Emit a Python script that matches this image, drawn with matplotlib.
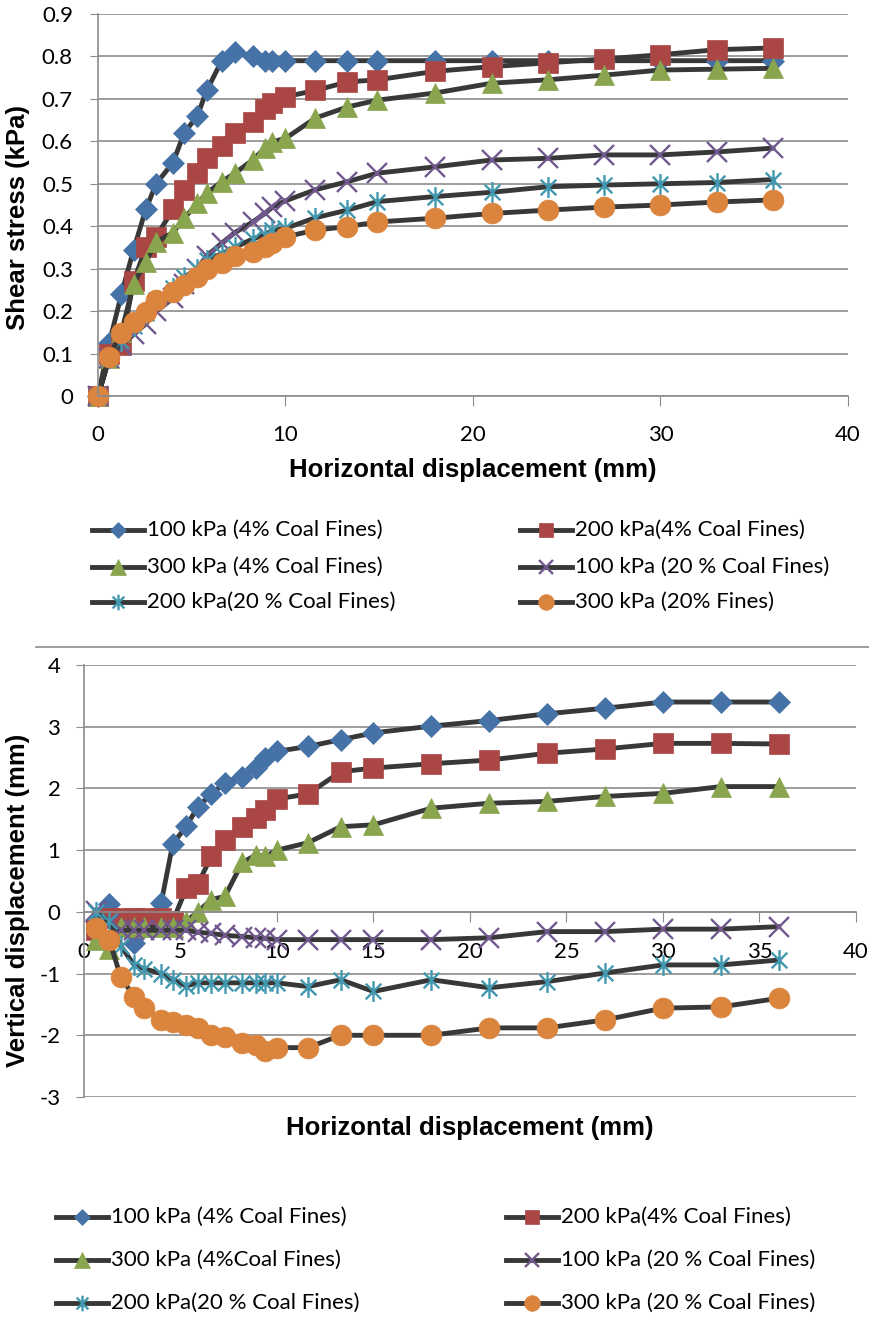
import matplotlib
matplotlib.use("Agg")
import matplotlib.pyplot as plt
from matplotlib.lines import Line2D
from matplotlib.path import Path

plt.rcParams["axes.unicode_minus"] = False

# Shear box test results: shear stress and vertical displacement vs horizontal displacement
x_shear = [0, 0.6, 1.25, 1.9, 2.55, 3.1, 4.0, 4.6, 5.3, 5.8, 6.6, 7.3, 8.25, 8.9, 9.3, 10.0,
           11.6, 13.3, 14.9, 18, 21, 24, 27, 30, 33, 36]
tau_100_4 = [0, 0.125, 0.24, 0.345, 0.44, 0.50, 0.55, 0.62, 0.66, 0.72, 0.79, 0.81, 0.80, 0.79,
             0.79, 0.79, 0.79, 0.79, 0.79, 0.79, 0.79, 0.79, 0.79, 0.79, 0.79, 0.79]
tau_200_4 = [0, 0.10, 0.12, 0.27, 0.35, 0.375, 0.44, 0.485, 0.525, 0.56, 0.59, 0.62, 0.645, 0.675,
             0.69, 0.705, 0.72, 0.74, 0.745, 0.765, 0.776, 0.785, 0.794, 0.804, 0.816, 0.82]
tau_300_4 = [0, 0.09, 0.15, 0.265, 0.316, 0.363, 0.385, 0.419, 0.454, 0.478, 0.505, 0.525, 0.556,
             0.584, 0.599, 0.607, 0.655, 0.681, 0.697, 0.714, 0.737, 0.745, 0.756, 0.768, 0.77, 0.772]
tau_100_20 = [0, 0.09, 0.12, 0.145, 0.17, 0.20, 0.23, 0.265, 0.30, 0.33, 0.36, 0.385, 0.41, 0.43,
              0.445, 0.46, 0.486, 0.505, 0.525, 0.54, 0.556, 0.56, 0.568, 0.568, 0.575, 0.584]
tau_200_20 = [0, 0.09, 0.13, 0.165, 0.195, 0.225, 0.255, 0.28, 0.30, 0.32, 0.335, 0.35, 0.37, 0.38,
              0.39, 0.395, 0.42, 0.438, 0.458, 0.47, 0.48, 0.493, 0.497, 0.50, 0.503, 0.51]
tau_300_20 = [0, 0.093, 0.148, 0.175, 0.198, 0.226, 0.246, 0.262, 0.281, 0.30, 0.313, 0.329, 0.34,
              0.352, 0.36, 0.375, 0.391, 0.399, 0.41, 0.419, 0.43, 0.438, 0.445, 0.45, 0.457, 0.462]

x_vert = [0.6, 1.3, 1.9, 2.6, 3.1, 4.0, 4.6, 5.3, 5.9, 6.6, 7.3, 8.2, 8.9, 9.4, 10.0, 11.6,
          13.3, 15, 18, 21, 24, 27, 30, 33, 36]
dv_100_4 = [-0.15, 0.13, -0.2, -0.5, -0.25, 0.15, 1.1, 1.39, 1.70, 1.91, 2.09, 2.19, 2.33, 2.50,
            2.60, 2.68, 2.79, 2.90, 3.01, 3.10, 3.21, 3.30, 3.40, 3.40, 3.40]
dv_200_4 = [-0.3, -0.1, -0.1, -0.1, -0.1, -0.1, -0.15, 0.38, 0.45, 0.9, 1.17, 1.37, 1.52, 1.65,
            1.83, 1.91, 2.27, 2.33, 2.40, 2.46, 2.57, 2.64, 2.73, 2.73, 2.72]
dv_300_4 = [-0.45, -0.6, -0.25, -0.25, -0.25, -0.25, -0.25, -0.15, 0.0, 0.2, 0.25, 0.8, 0.92, 0.9,
            1.0, 1.12, 1.38, 1.41, 1.68, 1.76, 1.79, 1.87, 1.92, 2.03, 2.03]
dv_100_20 = [0.02, -0.2, -0.3, -0.3, -0.3, -0.3, -0.3, -0.3, -0.33, -0.35, -0.38, -0.4, -0.42,
             -0.43, -0.45, -0.45, -0.45, -0.45, -0.45, -0.42, -0.32, -0.32, -0.28, -0.28, -0.24]
dv_200_20 = [0.0, -0.15, -0.55, -0.86, -0.92, -1.0, -1.1, -1.2, -1.15, -1.15, -1.15, -1.15, -1.15,
             -1.15, -1.15, -1.21, -1.1, -1.29, -1.1, -1.23, -1.13, -0.99, -0.86, -0.86, -0.78]
dv_300_20 = [-0.26, -0.45, -1.05, -1.38, -1.56, -1.75, -1.78, -1.83, -1.88, -1.99, -2.02, -2.13,
             -2.15, -2.25, -2.2, -2.2, -2.0, -2.0, -2.0, -1.88, -1.88, -1.75, -1.56, -1.54, -1.40]

labels_shear = ["100 kPa (4% Coal Fines)", "200 kPa(4% Coal Fines)", "300 kPa (4% Coal Fines)",
                "100 kPa (20 % Coal Fines)", "200 kPa(20 % Coal Fines)", "300 kPa (20% Fines)"]
labels_vert = ["100 kPa (4% Coal Fines)", "200 kPa(4% Coal Fines)", "300 kPa (4%Coal Fines)",
               "100 kPa (20 % Coal Fines)", "200 kPa(20 % Coal Fines)", "300 kPa (20 % Coal Fines)"]

# excel-like asterisk marker (x plus vertical bar)
asterisk = Path([(0, -1), (0, 1), (-0.75, -0.75), (0.75, 0.75), (-0.75, 0.75), (0.75, -0.75)],
                [Path.MOVETO, Path.LINETO] * 3)

styles = [
    dict(marker="D", ms=11, mfc="#4572A7", mec="#4572A7", mew=0.5),
    dict(marker="s", ms=14, mfc="#AA4643", mec="#AA4643", mew=0.5),
    dict(marker="^", ms=15, mfc="#89A54E", mec="#89A54E", mew=0.5),
    dict(marker="x", ms=14, mfc="none", mec="#71588F", mew=1.7),
    dict(marker=asterisk, ms=15, mfc="none", mec="#4198AF", mew=1.7),
    dict(marker="o", ms=15, mfc="#DB843D", mec="#DB843D", mew=0.5),
]
line_col = "#383838"
grid_col = "#8c8c8c"
tick_font = ["Lato", "DejaVu Sans"]
label_font = ["Liberation Sans", "DejaVu Sans"]

W, H = 870, 1321
def fx(px):
    return px / W
def fy(py):
    return 1 - py / H

fig = plt.figure(figsize=(W / 100, H / 100), dpi=100)

# --- shear stress chart ---
ax1 = fig.add_axes([fx(98), fy(396), 750 / W, 382 / H])
for ys, st in zip([tau_100_4, tau_200_4, tau_300_4, tau_100_20, tau_200_20, tau_300_20], styles):
    ax1.plot(x_shear, ys, color=line_col, lw=3.5, clip_on=False, **st)
ax1.set_xlim(0, 40)
ax1.set_ylim(0, 0.9)
ax1.set_xticks([0, 10, 20, 30, 40])
ax1.set_yticks([i / 10 for i in range(10)])
ax1.set_yticklabels(["0"] + [f"{i / 10:.1f}" for i in range(1, 10)])
ax1.tick_params(axis="y", length=6, color=grid_col, pad=12, labelsize=16)
ax1.tick_params(axis="x", length=7, color=grid_col, pad=14, labelsize=16)

# --- vertical displacement chart ---
ax2 = fig.add_axes([fx(84), fy(1097), 772 / W, 432 / H])
for ys, st in zip([dv_100_4, dv_200_4, dv_300_4, dv_100_20, dv_200_20, dv_300_20], styles):
    ax2.plot(x_vert, ys, color=line_col, lw=3.5, clip_on=False, **st)
ax2.set_xlim(0, 40)
ax2.set_ylim(-3, 4)
ax2.set_xticks(range(0, 41, 5))
ax2.set_yticks(range(-3, 5))
ax2.spines["bottom"].set_position(("data", 0))
ax2.tick_params(axis="y", length=6, color=grid_col, pad=11, labelsize=16)
ax2.tick_params(axis="x", length=7, color=grid_col, pad=15, labelsize=16)

for ax in (ax1, ax2):
    ax.yaxis.grid(True, color=grid_col, lw=1.2)
    ax.set_axisbelow(True)
    for s in ("top", "right"):
        ax.spines[s].set_visible(False)
    for s in ("left", "bottom"):
        ax.spines[s].set_color(grid_col)
        ax.spines[s].set_linewidth(1.2)
    for lab in ax.get_xticklabels() + ax.get_yticklabels():
        lab.set_family(tick_font)

# axis titles
fig.text(fx(18), fy(217), "Shear stress (kPa)", rotation=90, ha="center", va="center",
         fontsize=18.5, fontweight="bold", family=label_font)
fig.text(fx(473), fy(470), "Horizontal displacement (mm)", ha="center", va="center",
         fontsize=18.5, fontweight="bold", family=label_font)
fig.text(fx(18), fy(900), "Vertical displacement (mm)", rotation=90, ha="center", va="center",
         fontsize=18.5, fontweight="bold", family=label_font)
fig.text(fx(470), fy(1128), "Horizontal displacement (mm)", ha="center", va="center",
         fontsize=18.5, fontweight="bold", family=label_font)

# chart area border above the lower chart
fig.add_artist(Line2D([fx(36), 1], [fy(647), fy(647)], color=grid_col, lw=1.2))

# legends: two columns, entries listed row by row
def draw_legend(labels, cols_x, rows_y):
    for i, (lab, st) in enumerate(zip(labels, styles)):
        x0 = cols_x[i % 2]
        y = rows_y[i // 2]
        fig.add_artist(Line2D([fx(x0), fx(x0 + 52)], [fy(y), fy(y)], color=line_col, lw=3.5))
        small = dict(st)
        small["ms"] = st["ms"] * 0.75
        fig.add_artist(Line2D([fx(x0 + 26)], [fy(y)], ls="none", **small))
        fig.text(fx(x0 + 55), fy(y), lab, ha="left", va="center", fontsize=16, family=tick_font)

draw_legend(labels_shear, [92, 520], [530, 567, 602])
draw_legend(labels_vert, [56, 506], [1217, 1260, 1303])

fig.savefig("out.png", dpi=100)
